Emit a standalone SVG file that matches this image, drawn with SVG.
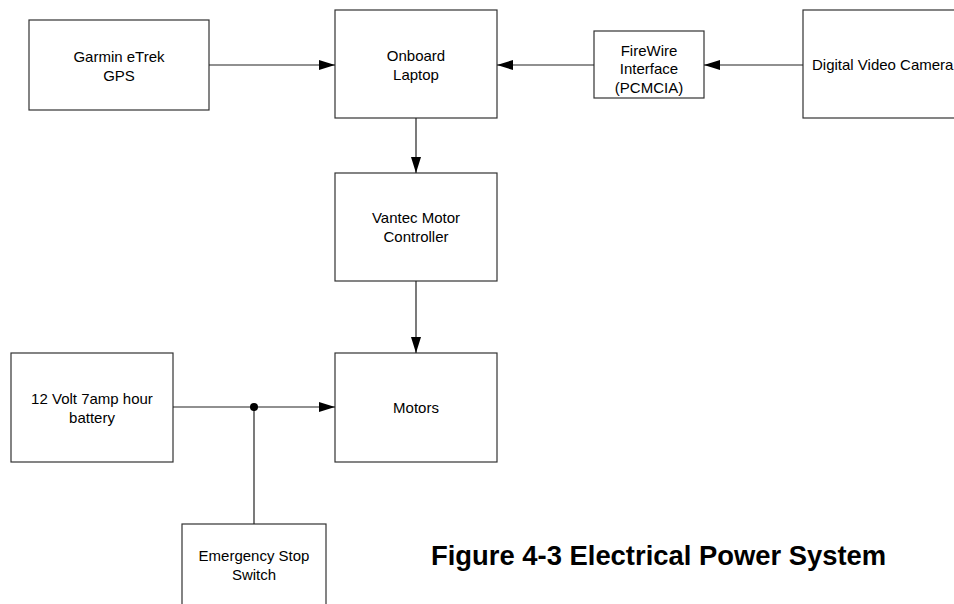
<svg xmlns="http://www.w3.org/2000/svg" width="954" height="604" viewBox="0 0 954 604">
  <style>
    .box { fill: #ffffff; stroke: #333333; stroke-width: 1.2; }
    .lbl { font-family: "Liberation Sans", Arial, sans-serif; font-size: 15px; fill: #000000; text-anchor: middle; }
    .conn { fill: none; stroke: #222222; stroke-width: 1.2; }
    .cap { font-family: "Liberation Sans", Arial, sans-serif; font-size: 27.4px; font-weight: bold; fill: #000000; }
  </style>
  <defs>
    <marker id="arrow" viewBox="0 0 16 10" refX="16" refY="5" markerWidth="16" markerHeight="10" markerUnits="userSpaceOnUse" orient="auto">
      <path d="M0,0 L16,5 L0,10 z" fill="#000000"/>
    </marker>
  </defs>
  <rect width="954" height="604" fill="#ffffff"/>

  <g id="gps">
    <rect class="box" x="29" y="20" width="180" height="90"/>
    <text class="lbl" x="119" y="61.5">Garmin eTrek</text>
    <text class="lbl" x="119" y="80.5">GPS</text>
  </g>

  <g id="laptop">
    <rect class="box" x="335" y="10" width="162" height="108"/>
    <text class="lbl" x="416" y="61">Onboard</text>
    <text class="lbl" x="416" y="80">Laptop</text>
  </g>

  <g id="firewire">
    <rect class="box" x="594" y="31" width="110" height="67"/>
    <text class="lbl" x="649" y="55.5">FireWire</text>
    <text class="lbl" x="649" y="74">Interface</text>
    <text class="lbl" x="649" y="92.5">(PCMCIA)</text>
  </g>

  <g id="camera">
    <rect class="box" x="803" y="10" width="170" height="108"/>
    <text class="lbl" x="812" y="70" style="text-anchor:start">Digital Video Camera</text>
  </g>

  <g id="vantec">
    <rect class="box" x="335" y="173" width="162" height="108"/>
    <text class="lbl" x="416" y="223">Vantec Motor</text>
    <text class="lbl" x="416" y="242">Controller</text>
  </g>

  <g id="motors">
    <rect class="box" x="335" y="353" width="162" height="109"/>
    <text class="lbl" x="416" y="412.5">Motors</text>
  </g>

  <g id="battery">
    <rect class="box" x="11" y="353" width="162" height="109"/>
    <text class="lbl" x="92" y="403.5">12 Volt 7amp hour</text>
    <text class="lbl" x="92" y="422.5">battery</text>
  </g>

  <g id="estop">
    <rect class="box" x="182" y="524" width="144" height="100"/>
    <text class="lbl" x="254" y="560.5">Emergency Stop</text>
    <text class="lbl" x="254" y="580">Switch</text>
  </g>

  <g id="connectors">
    <path class="conn" d="M209,65 H335" marker-end="url(#arrow)"/>
    <path class="conn" d="M594,65 H497" marker-end="url(#arrow)"/>
    <path class="conn" d="M803,65 H704" marker-end="url(#arrow)"/>
    <path class="conn" d="M416,118 V173" marker-end="url(#arrow)"/>
    <path class="conn" d="M416,281 V353" marker-end="url(#arrow)"/>
    <path class="conn" d="M173,407 H335" marker-end="url(#arrow)"/>
    <path class="conn" d="M254,407 V524"/>
    <circle cx="254" cy="407" r="4" fill="#000000"/>
  </g>

  <text class="cap" x="431" y="564.5">Figure 4-3 Electrical Power System</text>
</svg>
